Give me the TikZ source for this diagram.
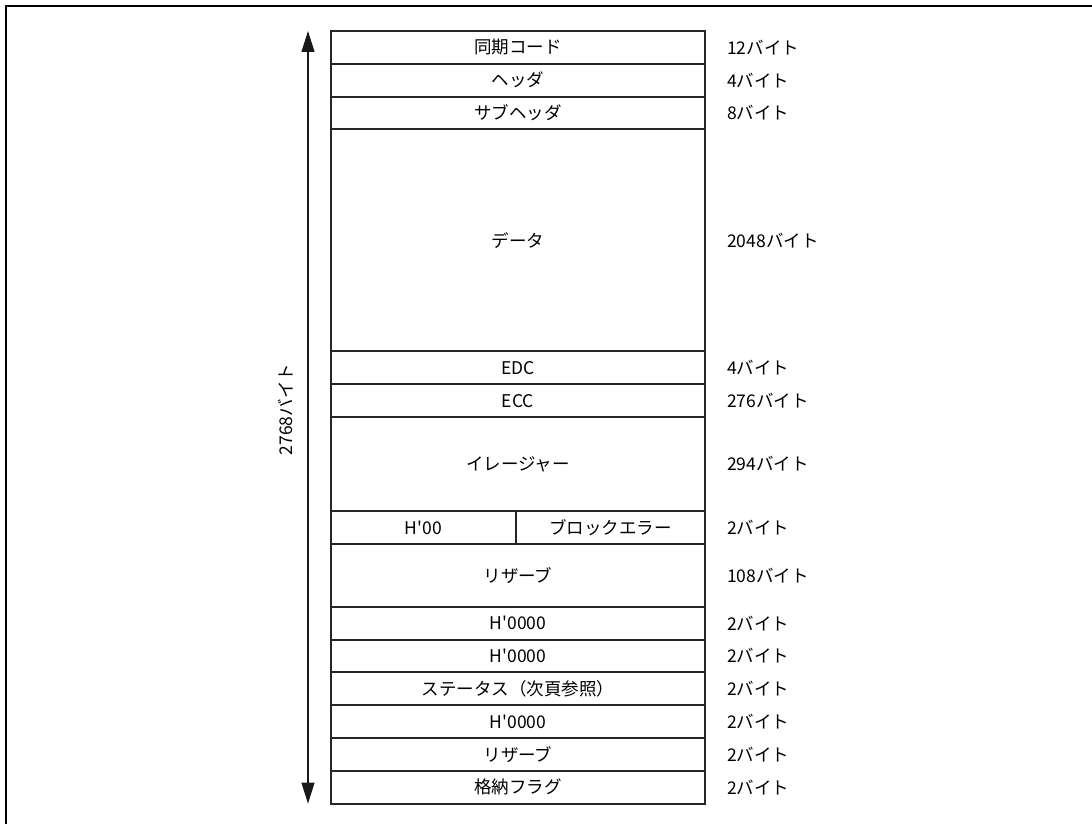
\documentclass[tikz,border=0pt]{standalone}
\usepackage{fontspec}
\newfontfamily\jpfont{Noto Sans CJK JP}
\usetikzlibrary{positioning,arrows.meta}

\begin{document}
\begin{tikzpicture}[x=1pt, y=-1pt,
		font=\jpfont\fontsize{17.5}{20}\selectfont,
		fld/.style={draw=black!85, line width=2pt, minimum width=374pt,
				minimum height=32.8pt, inner sep=0pt, outer sep=0pt},
		size/.style={inner sep=0pt, anchor=west},
		dim/.style={{Triangle[length=21pt,width=13pt]}-{Triangle[length=21pt,width=13pt]},
				line width=1.1pt, black!90}
		]
		\useasboundingbox (0,0) rectangle (1092,824);
		\draw[line width=2.8pt] (6,824) -- (6,6) -- (1092,6);

		\node[fld, anchor=north west] (sync) at (331,31) {同期コード};
		\node[fld, below=0pt of sync] (hdr) {ヘッダ};
		\node[fld, below=0pt of hdr] (subhdr) {サブヘッダ};
		\node[fld, below=0pt of subhdr, minimum height=222pt] (data) {データ};
		\node[fld, below=0pt of data] (edc) {EDC};
		\node[fld, below=0pt of edc] (ecc) {ECC};
		\node[fld, below=0pt of ecc, minimum height=94pt] (erase) {イレージャー};
		\node[fld, minimum width=185pt, anchor=north west] (h00) at (erase.south west) {H'00};
		\node[fld, minimum width=189pt, right=0pt of h00] (blkerr) {ブロックエラー};
		\node[fld, minimum height=63pt, anchor=north west] (rsv) at (h00.south west) {リザーブ};
		\node[fld, below=0pt of rsv] (zeroa) {H'0000};
		\node[fld, below=0pt of zeroa] (zerob) {H'0000};
		\node[fld, below=0pt of zerob] (status) {ステータス（次頁参照）};
		\node[fld, below=0pt of status] (zeroc) {H'0000};
		\node[fld, below=0pt of zeroc] (rsvb) {リザーブ};
		\node[fld, below=0pt of rsvb] (flag) {格納フラグ};

		% byte counts
		\node[size, right=22pt of sync] (nsync) {12バイト};
		\node[size, right=22pt of hdr] (nhdr) {4バイト};
		\node[size, right=22pt of subhdr] (nsubhdr) {8バイト};
		\node[size, right=22pt of data] (ndata) {2048バイト};
		\node[size, right=22pt of edc] (nedc) {4バイト};
		\node[size, right=22pt of ecc] (necc) {276バイト};
		\node[size, right=22pt of erase] (nerase) {294バイト};
		\node[size, right=22pt of blkerr] (nblkerr) {2バイト};
		\node[size, right=22pt of rsv] (nrsv) {108バイト};
		\node[size, right=22pt of zeroa] (nzeroa) {2バイト};
		\node[size, right=22pt of zerob] (nzerob) {2バイト};
		\node[size, right=22pt of status] (nstatus) {2バイト};
		\node[size, right=22pt of zeroc] (nzeroc) {2バイト};
		\node[size, right=22pt of rsvb] (nrsvb) {2バイト};
		\node[size, right=22pt of flag] (nflag) {2バイト};

		% total length
		\coordinate (atop) at ([xshift=-23pt]sync.north west);
		\coordinate (abot) at ([xshift=-23pt]flag.south west);
		\draw[dim] (atop) -- coordinate[pos=0.49] (amid) (abot);
		\node[rotate=90, anchor=south, inner sep=0pt] (total)
		at ([xshift=-15pt]amid) {2768バイト};
	\end{tikzpicture}
\end{document}
